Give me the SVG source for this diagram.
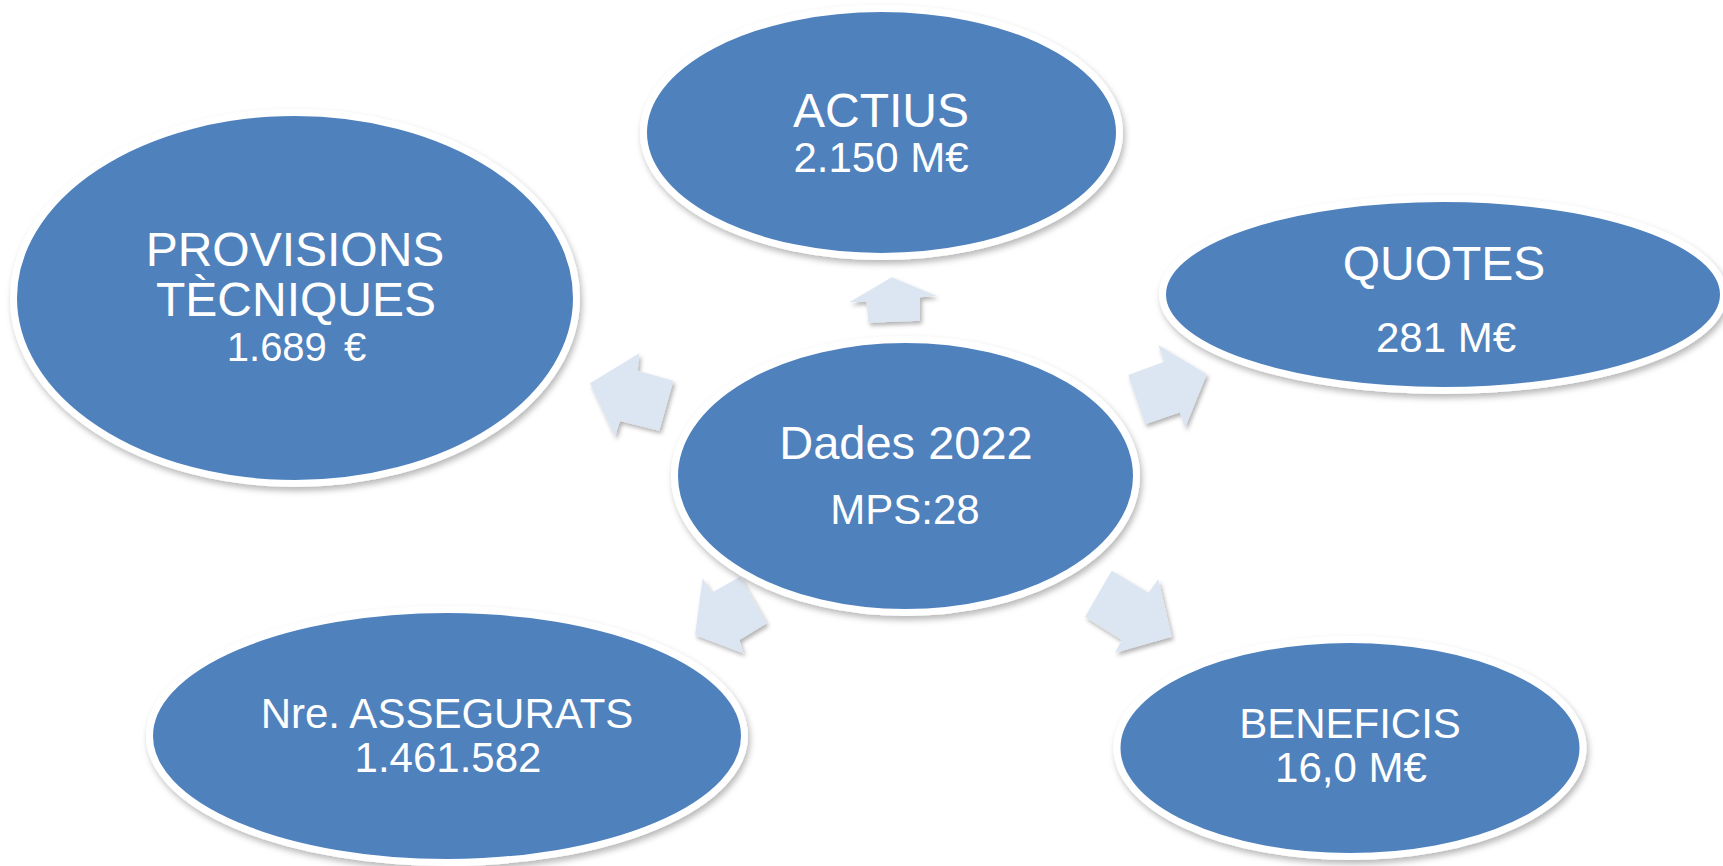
<svg xmlns="http://www.w3.org/2000/svg" width="1723" height="866" viewBox="0 0 1723 866">
<defs>
<filter id="sh" x="-10%" y="-10%" width="120%" height="125%">
<feDropShadow dx="2" dy="4" stdDeviation="3" flood-color="#000" flood-opacity="0.28"/>
</filter>
<filter id="ash" x="-20%" y="-20%" width="150%" height="150%">
<feDropShadow dx="2" dy="3" stdDeviation="2" flood-color="#000" flood-opacity="0.3"/>
</filter>
<style>
.n{fill:#4F81BD;stroke:#FFFFFF;stroke-width:7;filter:url(#sh)}
.a{fill:#DCE6F2;filter:url(#ash)}
.t{font-family:"Liberation Sans",Arial,sans-serif;fill:#FFFFFF;text-anchor:middle}
.l{font-size:48px}
.s{font-size:42px}
</style>
</defs>
<rect width="1723" height="866" fill="#FFFFFF"/>
<g id="connectors">
<polygon class="a" points="891.7,277.3 936.7,296 920,297.3 920,320.7 868.3,322.7 866.7,301.7 849.3,302.3"/>
<polygon class="a" points="1158.3,345 1206.7,374.3 1185,427.7 1180,412.3 1145,424.3 1128.3,375 1164.3,361.7"/>
<polygon class="a" points="590,383.3 639.3,353.3 637.7,370.7 673.3,380.7 659.3,430.7 620,421 615,436.7"/>
<polygon class="a" points="702.7,578.3 711.7,592.7 740,576.7 766.7,623.3 739.3,640 743.3,653.3 695,635"/>
<polygon class="a" points="1111.7,570.7 1148.3,592.7 1158.3,579.3 1171.7,636.7 1115,652.7 1121.7,640 1085,616.7"/>
</g>
<g id="provisions">
<ellipse class="n" cx="295" cy="298" rx="281.5" ry="185.5"/>
<text class="t l" x="295" y="266">PROVISIONS</text>
<text class="t l" x="296" y="316">TÈCNIQUES</text>
<text class="t" x="296.5" y="361" font-size="40" word-spacing="6">1.689 €</text>
</g>
<g id="actius">
<ellipse class="n" cx="881.5" cy="132.5" rx="238" ry="124"/>
<text class="t l" x="881" y="127">ACTIUS</text>
<text class="t s" x="881" y="172">2.150 M€</text>
</g>
<g id="quotes">
<ellipse class="n" cx="1443" cy="294.5" rx="280.5" ry="96"/>
<text class="t l" x="1444" y="280">QUOTES</text>
<text class="t s" x="1446" y="352">281 M€</text>
</g>
<g id="dades">
<ellipse class="n" cx="905.5" cy="476" rx="231" ry="136.5"/>
<text class="t" x="906" y="459" font-size="47">Dades 2022</text>
<text class="t s" x="905" y="524">MPS:28</text>
</g>
<g id="assegurats">
<ellipse class="n" cx="447" cy="736" rx="297.5" ry="126.5"/>
<text class="t s" x="447" y="728">Nre. ASSEGURATS</text>
<text class="t s" x="448" y="772">1.461.582</text>
</g>
<g id="beneficis">
<ellipse class="n" cx="1350" cy="748" rx="233" ry="108.5"/>
<text class="t s" x="1350" y="738">BENEFICIS</text>
<text class="t s" x="1351" y="782">16,0 M€</text>
</g>
</svg>
